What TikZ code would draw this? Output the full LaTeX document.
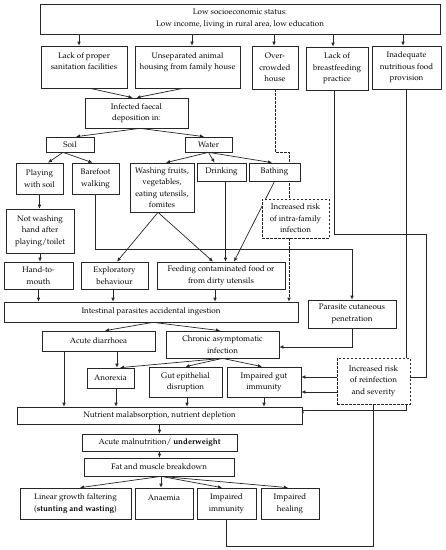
\documentclass[tikz,border=0pt]{standalone}
\usepackage[T1]{fontenc}
\usepackage{mathpazo}
\usetikzlibrary{arrows.meta,backgrounds}
\tikzset{
 box/.style={draw=black!85, line width=0.7pt, fill=white, inner sep=0pt, align=center, font=\fontsize{8}{11.5}\selectfont},
 dbox/.style={box, dash pattern=on 2.5pt off 1.5pt},
 ln/.style={draw=black!85, line width=0.7pt},
 arr/.style={ln, -{Latex[length=4pt,width=3.6pt]}},
 dln/.style={ln, dash pattern=on 2.5pt off 1.5pt},
 darr/.style={arr, dash pattern=on 2.5pt off 1.5pt},
}
\newcommand\mkbox[7]{%
 \pgfmathsetmacro\mbX{(#3+#5)/2}\pgfmathsetmacro\mbY{(#4+#6)/2}%
 \pgfmathsetmacro\mbW{#5-#3}\pgfmathsetmacro\mbH{#6-#4}%
 \node[#1, minimum width=\mbW pt, minimum height=\mbH pt] (#2) at (\mbX,\mbY) {#7};}
\begin{document}
\begin{tikzpicture}[x=1pt,y=-1pt]
\useasboundingbox (0,0) rectangle (446,550);
\mkbox{box}{top}{40}{4}{440}{34}{Low socioeconomic status:\\Low income, living in rural area, low education}
\mkbox{box}{san}{41}{46}{127}{88}{Lack of proper\\sanitation facilities\\\mbox{}}
\mkbox{box}{uns}{135}{46}{240}{88}{Unseparated animal\\housing from family house\\\mbox{}}
\mkbox{box}{ovr}{252}{46}{298}{89}{Over-\\crowded\\house}
\mkbox{box}{bf}{306}{47}{368}{90}{Lack of\\breastfeeding\\practice}
\mkbox{box}{ina}{372}{46}{441}{89}{Inadequate\\nutritious food\\provision}
\mkbox{box}{inf}{85}{98}{188}{128}{Infected faecal\\deposition in:}
\mkbox{box}{soil}{46}{137}{94}{152}{Soil}
\mkbox{box}{wat}{185}{137}{232}{152}{Water}
\mkbox{box}{play}{16}{163}{63}{194}{Playing\\with soil}
\mkbox{box}{bare}{72}{163}{119}{194}{Barefoot\\walking}
\mkbox{box}{wash}{130}{163}{194}{212}{Washing fruits,\\vegetables,\\eating utensils,\\fomites}
\mkbox{box}{drk}{197}{163}{246}{181}{Drinking}
\mkbox{box}{bath}{249}{163}{300}{181}{Bathing}
\mkbox{dbox}{intra}{262}{199}{329}{238}{Increased risk\\of intra-family\\infection}
\mkbox{box}{nw}{6}{209}{74}{253}{Not washing\\hand after\\playing/toilet}
\mkbox{box}{hand}{4}{262}{73}{289}{Hand-to-\\mouth}
\mkbox{box}{exp}{81}{262}{148}{289}{Exploratory\\behaviour}
\mkbox{box}{fd}{157}{262}{285}{289}{Feeding contaminated food or\\from dirty utensils}
\mkbox{box}{int}{4}{302}{298}{322}{Intestinal parasites accidental ingestion}
\mkbox{box}{par}{308}{300}{396}{328}{Parasite cutaneous\\penetration}
\mkbox{box}{acu}{42}{331}{155}{351}{Acute diarrhoea}
\mkbox{box}{chr}{166}{331}{279}{358}{Chronic asymptomatic\\infection}
\mkbox{box}{ano}{87}{368}{134}{388}{Anorexia}
\mkbox{box}{gut}{149}{367}{222}{397}{Gut epithelial\\disruption}
\mkbox{box}{igi}{227}{367}{301}{397}{Impaired gut\\immunity}
\mkbox{dbox}{rei}{337}{358}{410}{404}{Increased risk\\of reinfection\\and severity}
\mkbox{box}{nut}{17}{407}{302}{424}{Nutrient malabsorption, nutrient depletion}
\mkbox{box}{am}{82}{434}{237}{451}{Acute malnutrition/ \textbf{underweight}}
\mkbox{box}{fat}{84}{458}{234}{476}{Fat and muscle breakdown}
\mkbox{box}{lin}{20}{488}{131}{519}{Linear growth faltering\\(\textbf{stunting and wasting})}
\mkbox{box}{anm}{135}{488}{193}{519}{Anaemia\\\mbox{}}
\mkbox{box}{imm}{197}{488}{256}{519}{Impaired\\immunity}
\mkbox{box}{heal}{261}{488}{319}{519}{Impaired\\healing}
\begin{scope}[on background layer]
\draw[arr] ([xshift=-5]san.north |- top.south) -- ([xshift=-5]san.north);
\draw[arr] ([xshift=4.5]uns.north |- top.south) -- ([xshift=4.5]uns.north);
\draw[arr] ([xshift=-1]ovr.north |- top.south) -- ([xshift=-1]ovr.north);
\draw[arr] ([xshift=-4]bf.north |- top.south) -- ([xshift=-4]bf.north);
\draw[arr] ([xshift=-3.5]ina.north |- top.south) -- ([xshift=-3.5]ina.north);
\draw[arr] ([xshift=6]san.south) -- ([xshift=-4]inf.north);
\draw[arr] ([xshift=-4.5]uns.south) -- (inf.north);
\draw[arr] ([xshift=3.5]inf.south) -- ([xshift=6]soil.north);
\draw[arr] ([xshift=3.5]inf.south) -- ([xshift=-4.5]wat.north);
\draw[arr] ([xshift=-7]soil.south) -- ([xshift=8.5]play.north);
\draw[arr] ([xshift=-7]soil.south) -- ([xshift=-3]bare.north);
\draw[arr] (wat.south) -- ([xshift=4]wash.north);
\draw[arr] (wat.south) -- ([xshift=-7]drk.north);
\draw[arr] (wat.south) -- ([xshift=-2.5]bath.north);
\draw[arr] (play.south) -- (play.south |- nw.north);
\draw[arr] (nw.south) -- (nw.south |- hand.north);
\draw[arr] (bare.south) -- ++(0,55) -| (par.north);
\draw[arr] ([xshift=-4]wash.south) -- ([xshift=2.5]exp.north);
\draw[arr] ([xshift=-4]wash.south) -- ([xshift=-8]fd.north);
\draw[arr] ([xshift=4]drk.south) -- ([xshift=4]drk.south |- fd.north);
\draw[arr] (bath.south) -- ([xshift=13]fd.north);
\draw[dln] (ovr.south) -- ++(0,63) -| ([xshift=-6.5]intra.north);
\draw[darr] ([xshift=-6.5]intra.south) -- ([xshift=-6.5]intra.south |- int.north);
\draw[arr] (hand.south) -- (hand.south |- int.north);
\draw[arr] ([xshift=-1.5]exp.south) -- ([xshift=-1.5]exp.south |- int.north);
\draw[arr] ([xshift=-6]fd.south) -- ([xshift=-6]fd.south |- int.north);
\draw[arr] ([xshift=2]int.south) -- ([xshift=6.5]acu.north);
\draw[arr] ([xshift=2]int.south) -- ([xshift=-2.5]chr.north);
\draw[arr] (par.south) |- ([yshift=-2.5]chr.east);
\draw[arr] ([xshift=18.5]acu.south) -- ([xshift=18.5]acu.south |- ano.north);
\draw[arr] ([xshift=-34.5]acu.south) -- ([xshift=-34.5]acu.south |- nut.north);
\draw[arr] (chr.south) -- ([xshift=9.5]ano.north);
\draw[arr] (chr.south) -- (gut.north);
\draw[arr] (chr.south) -- ([xshift=-2]igi.north);
\draw[arr] ([xshift=5.5]ano.south) -- ([xshift=5.5]ano.south |- nut.north);
\draw[arr] ([xshift=1.5]gut.south) -- ([xshift=1.5]gut.south |- nut.north);
\draw[arr] (igi.south) -- (igi.south |- nut.north);
\draw[arr] ([yshift=4]rei.west) -- ([yshift=4]rei.west -| igi.east);
\draw[arr] ([yshift=-11]rei.west) -- ([yshift=-11]rei.west -| igi.east);
\draw[arr] (ina.south) |- ([yshift=-4]nut.north east) -- ([yshift=-9]nut.north east);
\draw[ln] ([xshift=-3]bf.south) -- ++(0,144) -- ++(92,0) |- ([yshift=4]rei.east);
\draw[ln] (imm.south) -- ++(0,27) -| (rei.south);
\draw[arr] (nut.south) -- (nut.south |- am.north);
\draw[arr] (am.south) -- (am.south |- fat.north);
\draw[arr] ([xshift=2]fat.south) -- ([xshift=4.5]lin.north);
\draw[arr] ([xshift=2]fat.south) -- ([xshift=2]fat.south |- anm.north);
\draw[arr] ([xshift=2]fat.south) -- ([xshift=-4.5]imm.north);
\draw[arr] ([xshift=2]fat.south) -- ([xshift=-2]heal.north);
\end{scope}
\end{tikzpicture}
\end{document}
